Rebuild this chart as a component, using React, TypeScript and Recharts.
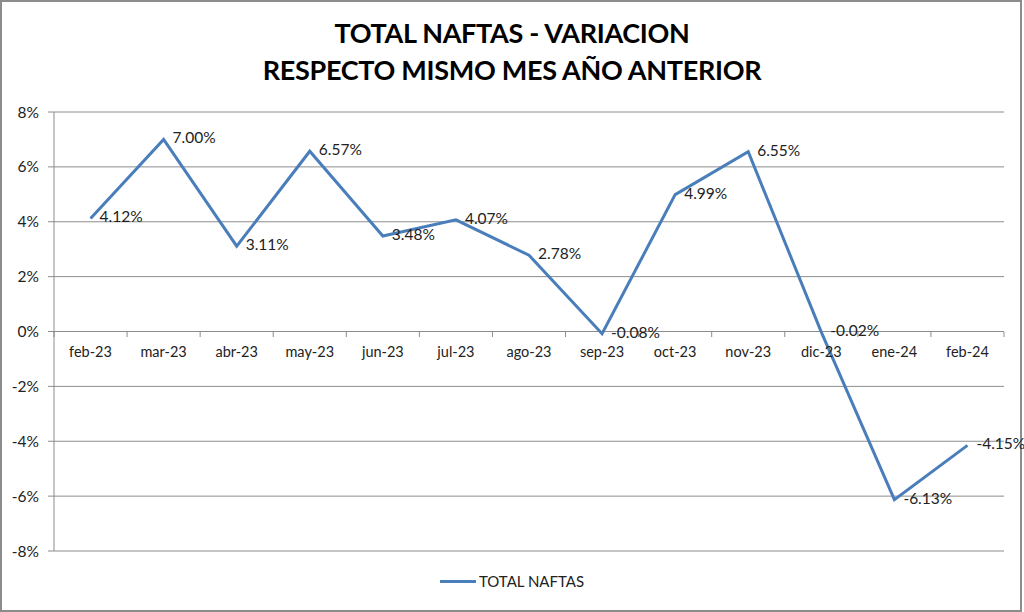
import React from 'react';
import { LineChart, Line, XAxis, YAxis, CartesianGrid, Legend, LabelList } from 'recharts';

const months = ['feb-23', 'mar-23', 'abr-23', 'may-23', 'jun-23', 'jul-23', 'ago-23', 'sep-23', 'oct-23', 'nov-23', 'dic-23', 'ene-24', 'feb-24'];
const totalNaftas = [4.12, 7.0, 3.11, 6.57, 3.48, 4.07, 2.78, -0.08, 4.99, 6.55, -0.02, -6.13, -4.15];
const yTicks = [-8, -6, -4, -2, 0, 2, 4, 6, 8];

const data = months.map((m, i) => ({ month: m, value: totalNaftas[i] }));

const W = 1024;
const H = 612;
const PLOT_TOP = 112;
const PLOT_BOTTOM = 550;
const PLOT_H = PLOT_BOTTOM - PLOT_TOP;
const BAND = (W - 54 - 20) / months.length;
const FONT = 'Lato, "Open Sans", sans-serif';
const LINE_COLOR = '#4a7ebb';

// x labels sit on the zero line, not the bottom of the plot
const MonthTick = (props: any) => {
  const { x, y, payload, index } = props;
  const zeroY = y - PLOT_H / 2;
  return (
    <g>
      <line x1={x - BAND / 2} x2={x - BAND / 2} y1={zeroY} y2={zeroY + 5} stroke="#8c8c8c" />
      {index === months.length - 1 && (
        <line x1={x + BAND / 2} x2={x + BAND / 2} y1={zeroY} y2={zeroY + 5} stroke="#8c8c8c" />
      )}
      <text x={x} y={zeroY + 21} textAnchor="middle" dominantBaseline="middle" fontSize={14.5} fill="#222" fontFamily={FONT}>
        {payload.value}
      </text>
    </g>
  );
};

const ValueLabel = (props: any) => {
  const { x, y, value } = props;
  return (
    <text x={x + 9} y={y} dominantBaseline="middle" fontSize={15.5} fill="#222" fontFamily={FONT}>
      {`${Number(value).toFixed(2)}%`}
    </text>
  );
};

const LegendContent = (props: any) => {
  const item = props.payload?.[0];
  if (!item) return null;
  return (
    <div style={{ display: 'flex', justifyContent: 'center', alignItems: 'center', fontSize: 15, color: '#222', fontFamily: FONT }}>
      <span style={{ display: 'inline-block', width: 36, height: 3, background: LINE_COLOR, marginRight: 3 }} />
      <span>{item.value}</span>
    </div>
  );
};

export default function App() {
  return (
    <div style={{ position: 'fixed', left: 0, top: 0, width: W, height: H, background: '#fff', fontFamily: FONT }}>
      <div style={{ position: 'absolute', left: 0, top: 0, width: W - 6, height: H - 4, border: '2px solid #8c8c8c' }} />
      <div
        style={{
          position: 'absolute',
          top: 14,
          left: 0,
          width: W,
          textAlign: 'center',
          fontWeight: 700,
          fontSize: 27,
          lineHeight: '37px',
          color: '#000',
          letterSpacing: -0.3,
        }}
      >
        TOTAL NAFTAS - VARIACION
        <br />
        RESPECTO MISMO MES AÑO ANTERIOR
      </div>
      <LineChart width={W} height={H} data={data} margin={{ top: PLOT_TOP, right: 20, bottom: 42, left: 0 }}>
        <CartesianGrid vertical={false} stroke="#8c8c8c" />
        <XAxis
          dataKey="month"
          axisLine={false}
          tickLine={false}
          tickSize={0}
          tickMargin={0}
          tick={<MonthTick />}
          interval={0}
          height={1}
          padding={{ left: BAND / 2, right: BAND / 2 }}
        />
        <YAxis
          domain={[-8, 8]}
          ticks={yTicks}
          width={54}
          tickFormatter={(v) => `${v}%`}
          tick={{ fontSize: 15.5, fill: '#222', fontFamily: FONT }}
          axisLine={{ stroke: '#8c8c8c' }}
          tickLine={{ stroke: '#8c8c8c' }}
          tickSize={6}
          tickMargin={9}
        />
        <Legend
          verticalAlign="bottom"
          content={<LegendContent />}
          wrapperStyle={{ position: 'absolute', top: 572, left: 0, width: W }}
        />
        <Line
          type="linear"
          dataKey="value"
          name="TOTAL NAFTAS"
          stroke={LINE_COLOR}
          strokeWidth={3}
          dot={false}
          isAnimationActive={false}
        >
          <LabelList dataKey="value" content={<ValueLabel />} />
        </Line>
      </LineChart>
    </div>
  );
}
